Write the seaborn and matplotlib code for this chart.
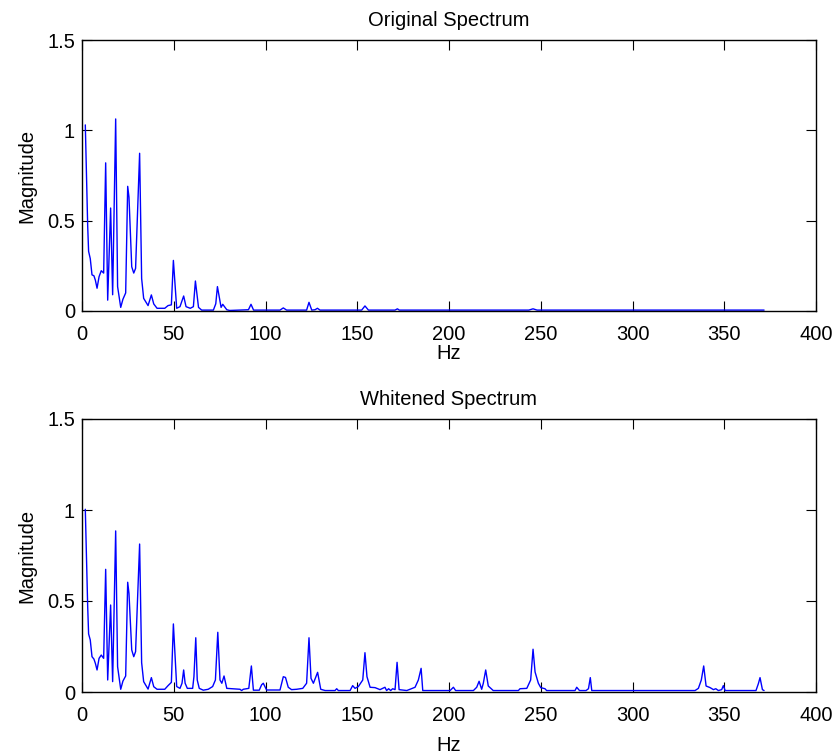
# Original vs whitened magnitude spectrum

import numpy as np
import pandas as pd
import seaborn as sns
import matplotlib
matplotlib.use('Agg')
import matplotlib.pyplot as plt

# values (peak/valley vertices)
top_hz = [1.8, 3.1, 3.6, 4.5, 5.45, 6.5, 7.3, 8.2, 9.3, 10.5,
          11.8, 12.9, 14.0, 15.6, 16.7, 18.35, 19.4, 21.1, 22.3, 23.8,
          24.9, 25.6, 27.1, 28.2, 29.2, 31.4, 32.5, 33.6, 36.0, 37.8,
          39.1, 40.9, 45.1, 46.9, 48.7, 49.8, 51.6, 53.4, 55.4, 56.7,
          59.0, 60.7, 61.8, 63.5, 65.2, 71.6, 72.9, 73.8, 75.8, 76.7,
          78.9, 80.5, 90.7, 92.1, 93.5, 107.9, 109.7, 111.5, 122.4, 123.7,
          125.2, 127.0, 128.3, 129.7, 152.4, 154.2, 156.1, 170.6, 171.9, 172.9,
          243.5, 245.8, 248.0, 371.7]
top_mag = [1.03, 0.47, 0.33, 0.29, 0.20, 0.195, 0.17, 0.126, 0.19, 0.223,
           0.21, 0.82, 0.06, 0.57, 0.09, 1.063, 0.135, 0.02, 0.065, 0.10,
           0.69, 0.63, 0.245, 0.21, 0.236, 0.873, 0.18, 0.07, 0.03, 0.089,
           0.039, 0.015, 0.015, 0.03, 0.034, 0.28, 0.015, 0.024, 0.083, 0.024,
           0.015, 0.024, 0.166, 0.02, 0.005, 0.005, 0.04, 0.135, 0.02, 0.037,
           0.007, 0.003, 0.007, 0.037, 0.005, 0.005, 0.017, 0.005, 0.005, 0.048,
           0.005, 0.007, 0.015, 0.005, 0.005, 0.028, 0.005, 0.005, 0.012, 0.005,
           0.005, 0.012, 0.005, 0.005]

bot_hz = [1.8, 3.1, 3.6, 4.5, 5.45, 6.5, 7.3, 8.2, 9.3, 10.5,
          11.8, 12.9, 14.0, 15.6, 16.7, 18.35, 19.4, 21.1, 22.3, 23.8,
          24.9, 25.6, 27.1, 28.2, 29.2, 31.4, 32.5, 33.6, 36.0, 37.8,
          39.1, 40.9, 45.1, 46.9, 48.7, 49.8, 51.6, 53.4, 54.5, 55.4,
          56.2, 57.4, 60.3, 61.0, 62.0, 62.8, 63.9, 66.1, 68.8, 71.2,
          72.7, 74.0, 75.2, 76.2, 77.4, 78.9, 86.1, 87.0, 87.9, 90.9,
          92.3, 93.4, 96.6, 97.9, 98.8, 100.6, 107.9, 109.7, 110.9, 112.4,
          114.2, 117.0, 120.3, 122.4, 123.7, 124.8, 126.1, 128.4, 130.1, 132.5,
          137.9, 138.8, 139.7, 146.1, 147.5, 148.8, 150.6, 153.0, 154.2, 155.3,
          157.0, 159.7, 162.4, 165.1, 166.0, 167.1, 168.2, 169.3, 170.6, 171.7,
          172.8, 177.0, 181.5, 183.3, 184.8, 185.7, 200.6, 202.4, 203.6, 213.3,
          215.1, 216.4, 217.8, 218.7, 220.0, 221.4, 224.1, 237.8, 238.7, 242.4,
          244.5, 245.8, 246.9, 248.7, 250.0, 252.3, 253.2, 268.7, 269.6, 271.1,
          274.7, 276.0, 277.0, 277.8, 334.1, 335.9, 337.5, 338.8, 340.1, 342.3,
          344.1, 345.4, 346.8, 348.6, 349.5, 350.5, 367.3, 368.6, 369.5, 370.8,
          371.7]
bot_mag = [1.004, 0.469, 0.319, 0.286, 0.194, 0.181, 0.157, 0.121, 0.185, 0.203,
           0.185, 0.674, 0.066, 0.478, 0.057, 0.885, 0.139, 0.015, 0.06, 0.088,
           0.603, 0.542, 0.231, 0.194, 0.222, 0.813, 0.161, 0.057, 0.016, 0.079,
           0.029, 0.015, 0.015, 0.035, 0.053, 0.374, 0.03, 0.02, 0.048, 0.121,
           0.048, 0.02, 0.02, 0.084, 0.298, 0.066, 0.02, 0.01, 0.015, 0.03,
           0.066, 0.328, 0.066, 0.048, 0.088, 0.02, 0.015, 0.008, 0.015, 0.02,
           0.143, 0.01, 0.01, 0.04, 0.048, 0.011, 0.011, 0.084, 0.08, 0.026,
           0.013, 0.015, 0.02, 0.048, 0.298, 0.075, 0.048, 0.108, 0.015, 0.008,
           0.008, 0.018, 0.008, 0.008, 0.035, 0.02, 0.03, 0.066, 0.216, 0.084,
           0.026, 0.024, 0.013, 0.026, 0.008, 0.018, 0.008, 0.018, 0.013, 0.163,
           0.013, 0.008, 0.026, 0.066, 0.13, 0.008, 0.008, 0.026, 0.008, 0.008,
           0.026, 0.059, 0.015, 0.048, 0.121, 0.033, 0.008, 0.008, 0.018, 0.02,
           0.066, 0.235, 0.11, 0.048, 0.024, 0.018, 0.008, 0.008, 0.026, 0.008,
           0.008, 0.018, 0.079, 0.008, 0.008, 0.02, 0.066, 0.143, 0.033, 0.024,
           0.013, 0.018, 0.008, 0.013, 0.035, 0.008, 0.008, 0.046, 0.079, 0.013,
           0.008]

titles = ['Original Spectrum', 'Whitened Spectrum']
x_ticks = [0, 50, 100, 150, 200, 250, 300, 350, 400]
y_ticks = [0, 0.5, 1, 1.5]
y_tick_labels = ['0', '0.5', '1', '1.5']

sns.set_style('ticks')
plt.rcParams['font.family'] = ['Liberation Sans', 'DejaVu Sans']
plt.rcParams['font.size'] = 14.5
plt.rcParams['text.color'] = 'black'
plt.rcParams['axes.labelcolor'] = 'black'

W, H = 839, 756
fig = plt.figure(figsize=(W / 100, H / 100), dpi=100)
ax_top = fig.add_axes([82 / W, 1 - 311 / H, 734 / W, 271 / H])
ax_bot = fig.add_axes([82 / W, 1 - 692 / H, 734 / W, 273 / H])

series = [(top_hz, top_mag), (bot_hz, bot_mag)]
xlabel_pads = [0, 8]
for ax, (hz, mag), title, xpad in zip([ax_top, ax_bot], series, titles, xlabel_pads):
  df = pd.DataFrame(dict(Hz=hz, Magnitude=mag))
  sns.lineplot(data=df, x='Hz', y='Magnitude', ax=ax, color='#0000ff',
               lw=1.0, estimator=None, sort=False)
  ax.set_xlim(0, 400)
  ax.set_ylim(0, 1.5)
  ax.set_xticks(x_ticks)
  ax.set_yticks(y_ticks)
  ax.set_yticklabels(y_tick_labels)
  ax.tick_params(direction='in', top=True, right=True, length=7, width=0.8,
                 labelsize=14.5, colors='black')
  ax.tick_params(axis='x', pad=10)
  ax.tick_params(axis='y', pad=5)
  for sp in ax.spines.values():
    sp.set_visible(True)
    sp.set_linewidth(1.0)
    sp.set_color('black')
  ax.set_title(title, fontsize=14.5, pad=10, color='black')
  ax.set_xlabel('Hz', fontsize=14.5, labelpad=xpad)
  ax.set_ylabel('Magnitude', fontsize=14.5, labelpad=8)

fig.savefig('out.png', dpi=100)
